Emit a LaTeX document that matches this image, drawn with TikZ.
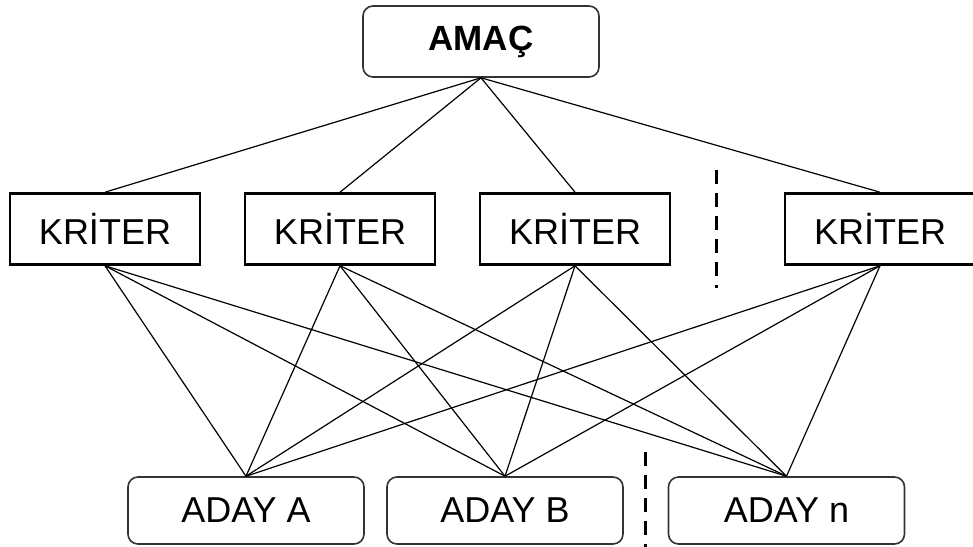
\documentclass[tikz,border=0pt]{standalone}
\usepackage{fontspec}
\setmainfont{Liberation Sans}
\begin{document}
\begin{tikzpicture}[x=1pt,y=-1pt,
  goal/.style={draw=black!80,line width=1.6pt,rounded corners=10pt,
    minimum width=236pt,minimum height=71pt,inner sep=0pt,
    font=\fontsize{35}{40}\selectfont\bfseries},
  crit/.style={draw,line width=2.6pt,minimum width=190pt,
    minimum height=71pt,inner sep=0pt,font=\fontsize{36}{40}\selectfont},
  alt/.style={draw=black!80,line width=1.6pt,rounded corners=10pt,
    minimum width=236pt,minimum height=67pt,inner sep=0pt,
    font=\fontsize{36}{40}\selectfont},
  link/.style={line width=1.2pt},
  sep/.style={line width=3pt,dash pattern=on 14pt off 9pt}]
  \useasboundingbox (0,0) rectangle (973,546);

  \node[goal] (amac) at (481,41.5) {AMAÇ};

  \node[crit] (k1) at (105,229) {KRİTER};
  \node[crit] (k2) at (340,229) {KRİTER};
  \node[crit] (k3) at (575,229) {KRİTER};
  \node[crit] (k4) at (880,229) {KRİTER};

  \node[alt] (a) at (246,510.5) {ADAY A};
  \node[alt] (b) at (505,510.5) {ADAY B};
  \node[alt] (n) at (786.5,510.5) {ADAY n};

  \foreach \k in {k1,k2,k3,k4}
    \draw[link] (amac.south) -- (\k.north);

  \foreach \k in {k1,k2,k3,k4}
    \foreach \d in {a,b,n}
      \draw[link] (\k.south) -- (\d.north);

  \coordinate (s1) at (716,170);
  \coordinate (s2) at (716,288);
  \coordinate (s3) at (645,452);
  \coordinate (s4) at (645,550);
  \draw[sep] (s1) -- (s2);
  \draw[sep] (s3) -- (s4);
\end{tikzpicture}
\end{document}
